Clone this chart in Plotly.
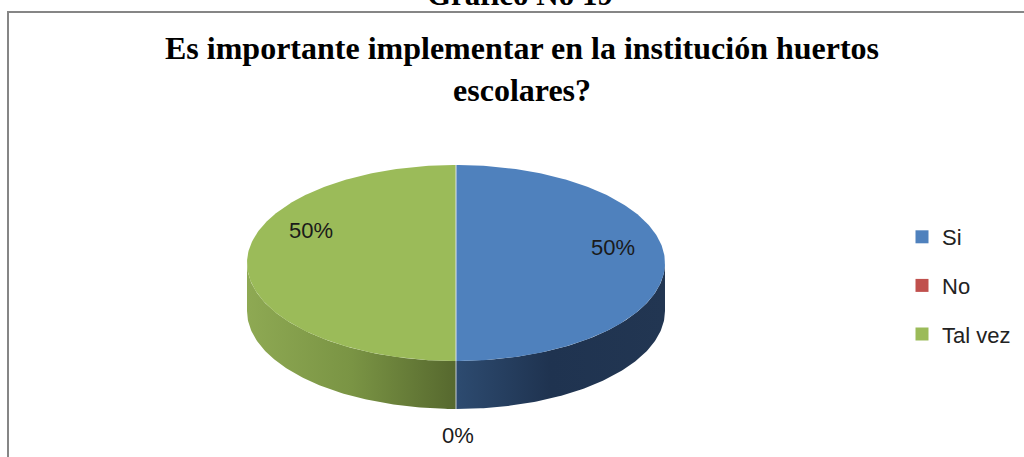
import numpy as np
import plotly.graph_objects as go

# datos del gráfico
categories = ["Si", "No", "Tal vez"]
values = [50, 0, 50]  # porcentaje
top_colors = ["#4f81bd", "#c0504d", "#9bbb59"]
side_scales = [
    [[0, "#2d4b70"], [0.45, "#1f3350"], [1, "#223652"]],
    [[0, "#8c3836"], [1, "#6e2b29"]],
    [[0, "#8ea953"], [0.5, "#7a9444"], [1, "#56682e"]],
]

caption = "Gráfico No 19"
title = "Es importante implementar en la institución huertos<br>escolares?"

# geometría de la torta 3D (en píxeles)
W, H = 1024, 457
cx, cy = 456, 263
rx, ry = 209, 98
depth = 48
label_pos = {"Si": (613, 247), "No": (458, 435), "Tal vez": (311, 230)}


def ell(theta, dy=0.0):
    return cx + rx * np.sin(theta), cy - ry * np.cos(theta) + dy


fig = go.Figure()

total = sum(values)
bounds = np.concatenate([[0], np.cumsum(values)]) / total * 2 * np.pi

# paredes laterales (solo la mitad delantera es visible)
for k, name in enumerate(categories):
    a0, a1 = bounds[k], bounds[k + 1]
    s0, s1 = max(a0, np.pi / 2), min(a1, 3 * np.pi / 2)
    if s1 - s0 < 1e-9:
        continue
    t = np.linspace(s0, s1, 120)
    xu, yu = ell(t)
    xl, yl = ell(t[::-1], depth)
    fig.add_trace(go.Scatter(
        x=np.concatenate([xu, xl]), y=np.concatenate([yu, yl]),
        mode="lines", fill="toself", line=dict(width=0),
        fillgradient=dict(type="horizontal", colorscale=side_scales[k]),
        showlegend=False, hoverinfo="skip",
    ))

# caras superiores
for k, name in enumerate(categories):
    a0, a1 = bounds[k], bounds[k + 1]
    if a1 - a0 < 1e-9:
        continue
    t = np.linspace(a0, a1, 240)
    xs, ys = ell(t)
    fig.add_trace(go.Scatter(
        x=np.concatenate([[cx], xs, [cx]]), y=np.concatenate([[cy], ys, [cy]]),
        mode="lines", fill="toself", fillcolor=top_colors[k], line=dict(width=0),
        showlegend=False, hoverinfo="skip",
    ))

# líneas divisorias entre porciones
for a in np.unique(np.round(bounds % (2 * np.pi), 9)):
    xe, ye = ell(a)
    fig.add_trace(go.Scatter(x=[cx, xe], y=[cy, ye], mode="lines",
                             line=dict(color="#dde3ec", width=1),
                             showlegend=False, hoverinfo="skip"))
    if np.pi / 2 <= a <= 3 * np.pi / 2:
        fig.add_trace(go.Scatter(x=[xe, xe], y=[ye, ye + depth], mode="lines",
                                 line=dict(color="#c9ced6", width=1),
                                 showlegend=False, hoverinfo="skip"))

# leyenda
for k, name in enumerate(categories):
    fig.add_trace(go.Scatter(
        x=[None], y=[None], mode="markers", name=name, legendgroup=name,
        marker=dict(symbol="square", size=13, color=top_colors[k]),
    ))

# etiquetas de porcentaje
for k, name in enumerate(categories):
    lx, ly = label_pos[name]
    fig.add_annotation(x=lx, y=ly, text=f"{values[k] / total:.0%}", showarrow=False,
                       font=dict(family="Liberation Sans", size=22, color="#1a1a1a"))

fig.add_annotation(x=520, y=14, yanchor="bottom", text=caption, showarrow=False,
                   font=dict(family="Liberation Serif", size=31, color="#000", weight="bold"))
fig.add_annotation(x=522, y=28, yanchor="top", text=title, showarrow=False,
                   font=dict(family="Liberation Serif", size=32, color="#000", weight="bold"))

fig.add_shape(type="rect", x0=8, y0=12, x1=1100, y1=600,
              line=dict(color="#868686", width=2), layer="above")

fig.update_layout(
    width=W, height=H, margin=dict(l=0, r=0, t=0, b=0),
    paper_bgcolor="white", plot_bgcolor="white",
    xaxis=dict(range=[0, W], visible=False, fixedrange=True),
    yaxis=dict(range=[H, 0], visible=False, fixedrange=True),
    legend=dict(x=902 / W, y=1 - 216 / H, xanchor="left", yanchor="top",
                tracegroupgap=17, font=dict(family="Liberation Sans", size=22, color="#222"),
                bgcolor="rgba(0,0,0,0)"),
)

fig.write_html("out.html", config={"displayModeBar": False},
               post_script="document.body.style.margin = '0px';")
